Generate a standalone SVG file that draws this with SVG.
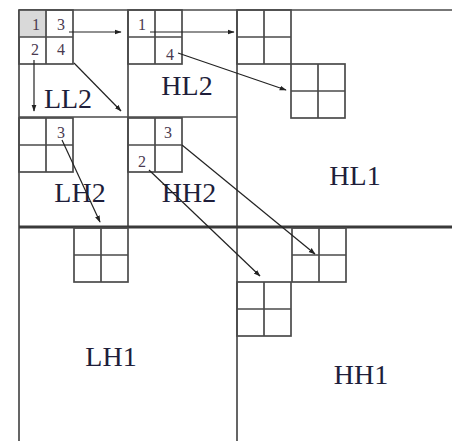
<svg xmlns="http://www.w3.org/2000/svg" width="452" height="441" viewBox="0 0 452 441">
  <style>
    .ln { stroke: #4a4a4a; stroke-width: 1.7; fill: none; }
    .thick { stroke: #3a3a3a; stroke-width: 3; fill: none; }
    .band { font-family: "Liberation Serif", "DejaVu Serif", serif; font-size: 28px; fill: #1e1e3a; text-anchor: middle; }
    .num { font-family: "Liberation Serif", "DejaVu Serif", serif; font-size: 16px; fill: #4a3a50; text-anchor: middle; }
    .arr { stroke: #222; stroke-width: 1.2; fill: none; marker-end: url(#head); }
  </style>
  <defs>
    <marker id="head" viewBox="0 0 10 10" refX="9" refY="5" markerWidth="7" markerHeight="7" markerUnits="userSpaceOnUse" orient="auto">
      <path d="M0,1.5 L10,5 L0,8.5 Z" fill="#222"/>
    </marker>
    <!-- 2x2 coefficient block, 54 px square -->
    <g id="quad">
      <rect x="0" y="0" width="54" height="54" class="ln"/>
      <line x1="27" y1="0" x2="27" y2="54" class="ln"/>
      <line x1="0" y1="27" x2="54" y2="27" class="ln"/>
    </g>
  </defs>
  <rect width="452" height="441" fill="#fff"/>

  <!-- level-1 frame -->
  <g id="frame">
    <line x1="19" y1="10" x2="452" y2="10" class="ln"/>
    <line x1="19" y1="10" x2="19" y2="441" class="ln"/>
    <line x1="237" y1="10" x2="237" y2="441" class="ln"/>
    <line x1="128" y1="10" x2="128" y2="227" class="ln"/>
    <line x1="19" y1="117" x2="237" y2="117" class="ln"/>
    <line x1="19" y1="227" x2="452" y2="227" class="thick"/>
  </g>

  <g id="LL2">
    <rect x="19" y="10" width="28" height="27" fill="#d9d9d9"/>
    <use href="#quad" x="19" y="10"/>
    <text x="36" y="30" class="num">1</text>
    <text x="61" y="30" class="num">3</text>
    <text x="35" y="55" class="num">2</text>
    <text x="61" y="55" class="num">4</text>
    <text x="68" y="108" class="band">LL2</text>
  </g>

  <g id="HL2">
    <use href="#quad" x="128" y="10"/>
    <text x="142" y="30" class="num">1</text>
    <text x="170" y="60" class="num">4</text>
    <text x="187" y="95" class="band">HL2</text>
  </g>

  <g id="LH2">
    <use href="#quad" x="19" y="118"/>
    <text x="61" y="138" class="num">3</text>
    <text x="80" y="202" class="band">LH2</text>
  </g>

  <g id="HH2">
    <use href="#quad" x="128" y="118"/>
    <text x="168" y="138" class="num">3</text>
    <text x="142" y="167" class="num">2</text>
    <text x="189" y="202" class="band">HH2</text>
  </g>

  <g id="HL1">
    <use href="#quad" x="237" y="10"/>
    <use href="#quad" x="291" y="64"/>
    <text x="355" y="185" class="band">HL1</text>
  </g>

  <g id="LH1">
    <use href="#quad" x="74" y="228"/>
    <text x="111" y="366" class="band">LH1</text>
  </g>

  <g id="HH1">
    <use href="#quad" x="292" y="228"/>
    <use href="#quad" x="237" y="282"/>
    <text x="361" y="384" class="band">HH1</text>
  </g>

  <g id="connectors">
    <line x1="69" y1="32" x2="121" y2="32" class="arr"/>
    <line x1="150" y1="32" x2="234" y2="32" class="arr"/>
    <line x1="34" y1="60" x2="34" y2="111" class="arr"/>
    <line x1="74" y1="63" x2="121" y2="111" class="arr"/>
    <line x1="178" y1="53" x2="286" y2="90" class="arr"/>
    <line x1="62" y1="140" x2="100" y2="222" class="arr"/>
    <line x1="149" y1="170" x2="260" y2="276" class="arr"/>
    <line x1="182" y1="145" x2="315" y2="254" class="arr"/>
  </g>
</svg>
